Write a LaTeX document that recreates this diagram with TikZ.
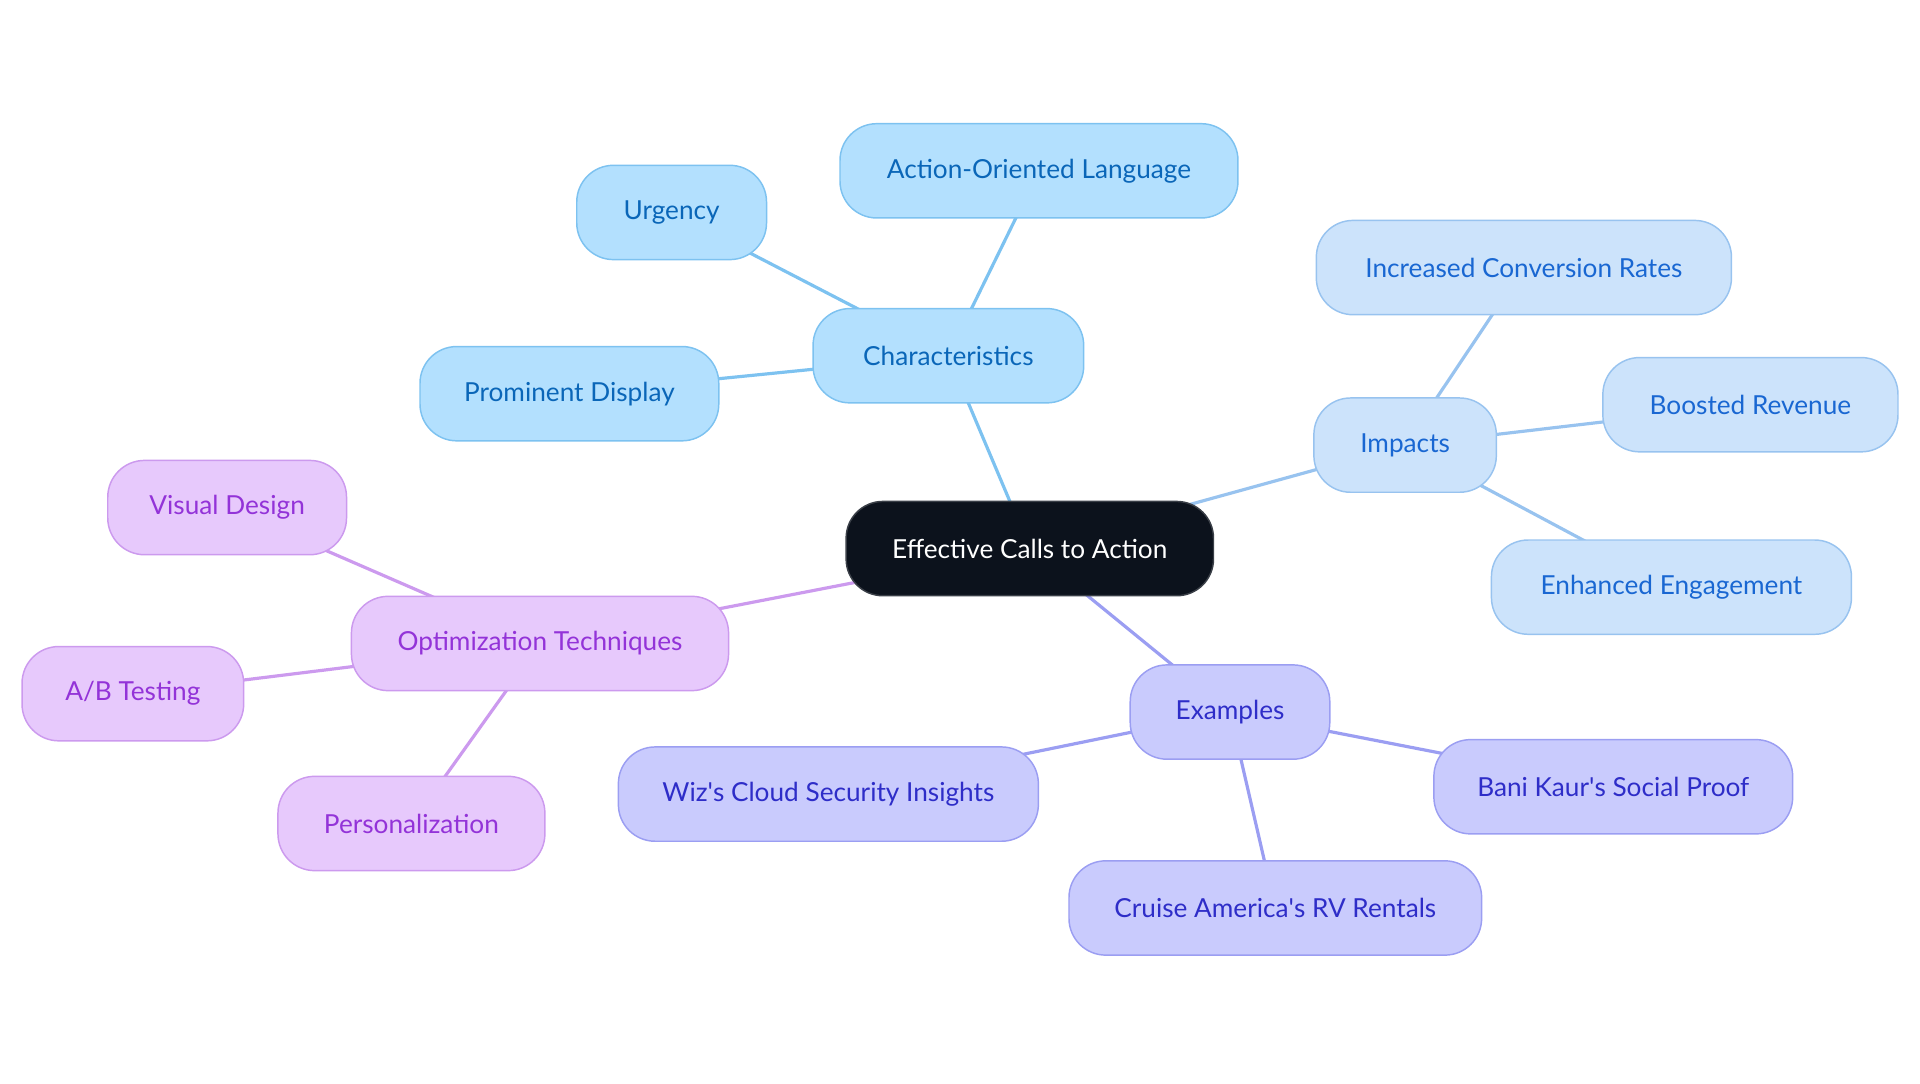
\documentclass[tikz,border=0pt]{standalone}
\usepackage{fontspec}
\setmainfont{Lato}
\usetikzlibrary{backgrounds}
\definecolor{chF}{HTML}{B3E0FE}\definecolor{chD}{HTML}{7DC2F0}\definecolor{chT}{HTML}{0A66B8}
\definecolor{imF}{HTML}{CCE3FB}\definecolor{imD}{HTML}{98C3EF}\definecolor{imT}{HTML}{1967D2}
\definecolor{exF}{HTML}{C9CBFD}\definecolor{exD}{HTML}{9B9EF2}\definecolor{exT}{HTML}{2E2DC8}
\definecolor{opF}{HTML}{E7C9FC}\definecolor{opD}{HTML}{CC9AEE}\definecolor{opT}{HTML}{9333D8}
\definecolor{ctF}{HTML}{0C121C}\definecolor{ctD}{HTML}{3A3F47}
\begin{document}
\begin{tikzpicture}[x=1pt,y=-1pt,
  box/.style={draw, line width=1.2pt, rounded corners=30pt, minimum height=77pt,
    inner sep=0pt, align=center, font=\fontsize{21.4}{25}\selectfont},
  chbox/.style={box, fill=chF, draw=chD, text=chT},
  imbox/.style={box, fill=imF, draw=imD, text=imT},
  exbox/.style={box, fill=exF, draw=exD, text=exT},
  opbox/.style={box, fill=opF, draw=opD, text=opT},
  ctbox/.style={box, fill=ctF, draw=ctD, text=white},
  link/.style={line width=2.6pt},
  ]
\useasboundingbox (0,0) rectangle (1568,884.5);
\node[ctbox, minimum width=300pt] (ct) at (841,448) {Effective Calls to Action};
\node[chbox, minimum width=221pt] (ch) at (774.5,290.5) {Characteristics};
\node[chbox, minimum width=325pt] (aol) at (848.5,139.5) {Action-Oriented Language};
\node[chbox, minimum width=155pt] (urg) at (548.5,173.5) {Urgency};
\node[chbox, minimum width=244pt] (pd) at (465,321.5) {Prominent Display};
\node[imbox, minimum width=149pt] (im) at (1147.5,363.5) {Impacts};
\node[imbox, minimum width=339pt] (icr) at (1244.5,218.5) {Increased Conversion Rates};
\node[imbox, minimum width=241pt] (br) at (1429.5,330.5) {Boosted Revenue};
\node[imbox, minimum width=294pt] (ee) at (1365,479.5) {Enhanced Engagement};
\node[opbox, minimum width=308pt] (op) at (441,525.5) {Optimization Techniques};
\node[opbox, minimum width=195pt] (vd) at (185.5,414.5) {Visual Design};
\node[opbox, minimum width=181pt] (ab) at (108.5,566.5) {A/B Testing};
\node[opbox, minimum width=218pt] (pz) at (336,672.5) {Personalization};
\node[exbox, minimum width=163pt] (ex) at (1004.5,581.5) {Examples};
\node[exbox, minimum width=343pt] (wiz) at (676.5,648.5) {Wiz\textquotesingle s Cloud Security Insights};
\node[exbox, minimum width=293pt] (bk) at (1317.5,642.5) {Bani Kaur\textquotesingle s Social Proof};
\node[exbox, minimum width=337pt] (ca) at (1041.5,741.5) {Cruise America\textquotesingle s RV Rentals};
\begin{scope}[on background layer]
\draw[link, draw=chD] (ct.center) -- (ch.center);
\draw[link, draw=chD] (ch.center) -- (aol.center);
\draw[link, draw=chD] (ch.center) -- (urg.center);
\draw[link, draw=chD] (ch.center) -- (pd.center);
\draw[link, draw=imD] (ct.center) -- (im.center);
\draw[link, draw=imD] (im.center) -- (icr.center);
\draw[link, draw=imD] (im.center) -- (br.center);
\draw[link, draw=imD] (im.center) -- (ee.center);
\draw[link, draw=opD] (ct.center) -- (op.center);
\draw[link, draw=opD] (op.center) -- (vd.center);
\draw[link, draw=opD] (op.center) -- (ab.center);
\draw[link, draw=opD] (op.center) -- (pz.center);
\draw[link, draw=exD] (ct.center) -- (ex.center);
\draw[link, draw=exD] (ex.center) -- (wiz.center);
\draw[link, draw=exD] (ex.center) -- (bk.center);
\draw[link, draw=exD] (ex.center) -- (ca.center);
\end{scope}
\end{tikzpicture}
\end{document}
